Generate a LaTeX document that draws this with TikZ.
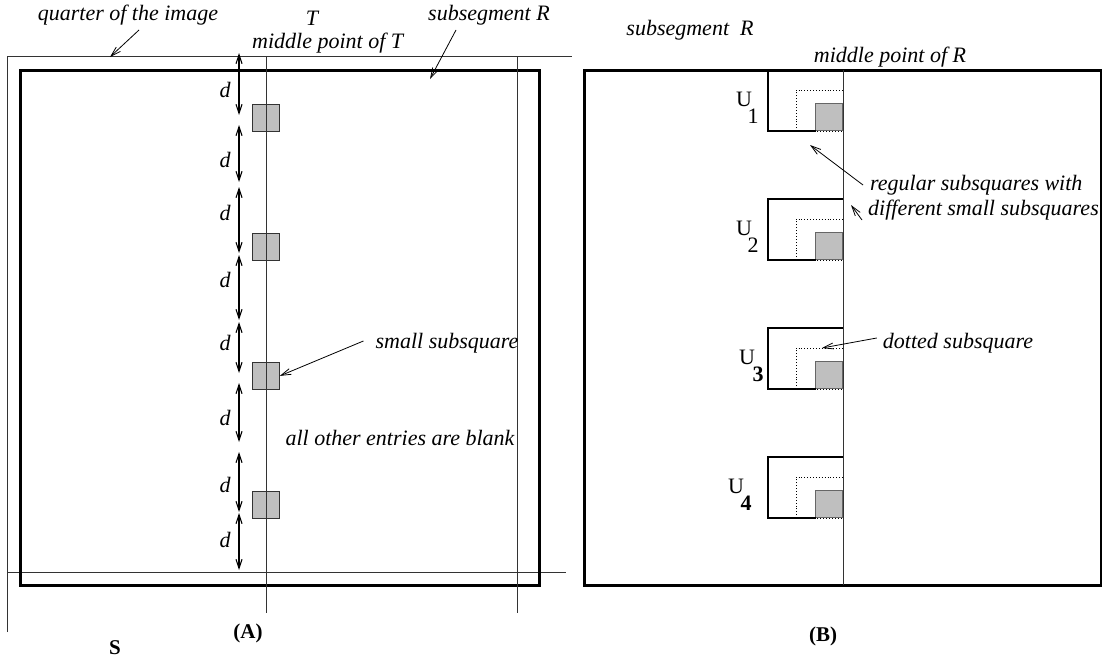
\documentclass[tikz,border=0pt]{standalone}
\usepackage{fontspec}
\setmainfont{Liberation Serif}
\usetikzlibrary{arrows.meta}
\begin{document}
\begin{tikzpicture}[x=1pt,y=-1pt,
  thinline/.style={line width=0.9pt, draw=black!80},
  thickline/.style={line width=3pt, draw=black},
  lab/.style={font=\fontsize{22}{26}\selectfont\itshape, inner sep=0pt},
  ulab/.style={font=\fontsize{22}{26}\selectfont, inner sep=0pt},
  blab/.style={font=\fontsize{21}{26}\selectfont\bfseries, inner sep=0pt},
  darr/.style={line width=1.1pt, {Straight Barb[length=9pt,width=6pt]}-{Straight Barb[length=9pt,width=6pt]}},
  parr/.style={line width=0.8pt, -{Straight Barb[length=10pt,width=6pt]}},
  sq/.style={fill=black!25, draw=black!80, line width=0.8pt},
  bsq/.style={fill=black!25, draw=black!60, line width=0.8pt},
  dotline/.style={line width=0.9pt, dotted},
]
\useasboundingbox (0,0) rectangle (1102,664);
% ---------- panel A ----------
\draw[thinline] (7,632) -- (7,56) -- (572,56);
\draw[thinline] (7,572) -- (566,572);
\draw[thickline] (20,70) rectangle (539,585);
\foreach \y [count=\i] in {104,233,362,491} {
  \node[sq, minimum size=27pt, inner sep=0pt, anchor=north west] (ss\i) at (252,\y) {};
}
\draw[thinline] (266,56) -- (266,613);
\draw[thinline] (517,56) -- (517,613);
% d arrows
\foreach \a/\b/\m [count=\i] in {53/115/90, 125/182/160, 187/253/213, 255/320/280, 322/373/343, 383/442/418, 452/512/485, 513/570/540} {
  \coordinate (dt\i) at (239,\a);
  \coordinate (db\i) at (239,\b);
  \draw[darr] (dt\i) -- (db\i);
  \node[lab] (d\i) at (225,\m) {d};
}
% labels A
\node[lab] (quarter) at (128,15) {quarter of the image};
\coordinate (qs) at (139,30);
\coordinate (qtip) at (110,57);
\draw[parr] (qs) -- (qtip);
\node[lab] (T) at (312,18) {T};
\node[lab, anchor=west] (midT) at (252,43) {middle point of T};
\node[lab] (subR) at (489,15) {subsegment R};
\coordinate (rs) at (456,30);
\coordinate (rtip) at (430,79);
\draw[parr] (rs) -- (rtip);
\node[lab] (small) at (447,343) {small subsquare};
\draw[parr] ([xshift=-12pt,yshift=2pt]small.west) -- (ss3.east);
\node[lab] (blank) at (400,438) {all other entries are blank};
\node[blab] (A) at (248,633) {(A)};
\node[blab] (S) at (115,648) {S};
% ---------- panel B ----------
\draw[thickline] (584,70) rectangle (1101,585);
\foreach \y/\s/\ux/\sx [count=\i] in {70/1/744/753, 199/2/744/753, 328/{\bfseries 3}/747/758, 457/{\bfseries 4}/736/746} {
  \node[bsq, minimum size=27pt, inner sep=0pt, anchor=south east] (g\i) at (843,\y+61) {};
  \draw[dotline] (796,\y+61) -- (796,\y+20) -- (843,\y+20) -- (843,\y+61) -- (816,\y+61);
  \draw[thickline, line width=2.6pt] (816,\y+61) -- (768,\y+61) -- (768,\y) -- (843,\y);
  \node[ulab] (u\i) at (\ux,\y+29) {U};
  \node[ulab] (us\i) at (\sx,\y+46) {\s};
}
\draw[thinline] (843,70) -- (843,585);
\node[lab] (subR2) at (690,30) {subsegment\ \ R};
\node[lab] (midR) at (890,57) {middle point of R};
\node[lab, anchor=west] (reg1) at (870,185) {regular subsquares with};
\node[lab, anchor=west] (reg2) at (868,210) {different small subsquares};
\coordinate (regtip1) at (810,145);
\coordinate (regtip2) at (851,205);
\draw[parr] ([xshift=-7pt]reg1.west) -- (regtip1);
\draw[parr] ([xshift=-6pt,yshift=-10pt]reg2.west) -- (regtip2);
\node[lab] (dotted) at (958,343) {dotted subsquare};
\coordinate (dottip) at (822,348);
\draw[parr] ([xshift=-6pt,yshift=5pt]dotted.west) -- (dottip);
\node[blab] (B) at (823,636) {(B)};
\end{tikzpicture}
\end{document}
